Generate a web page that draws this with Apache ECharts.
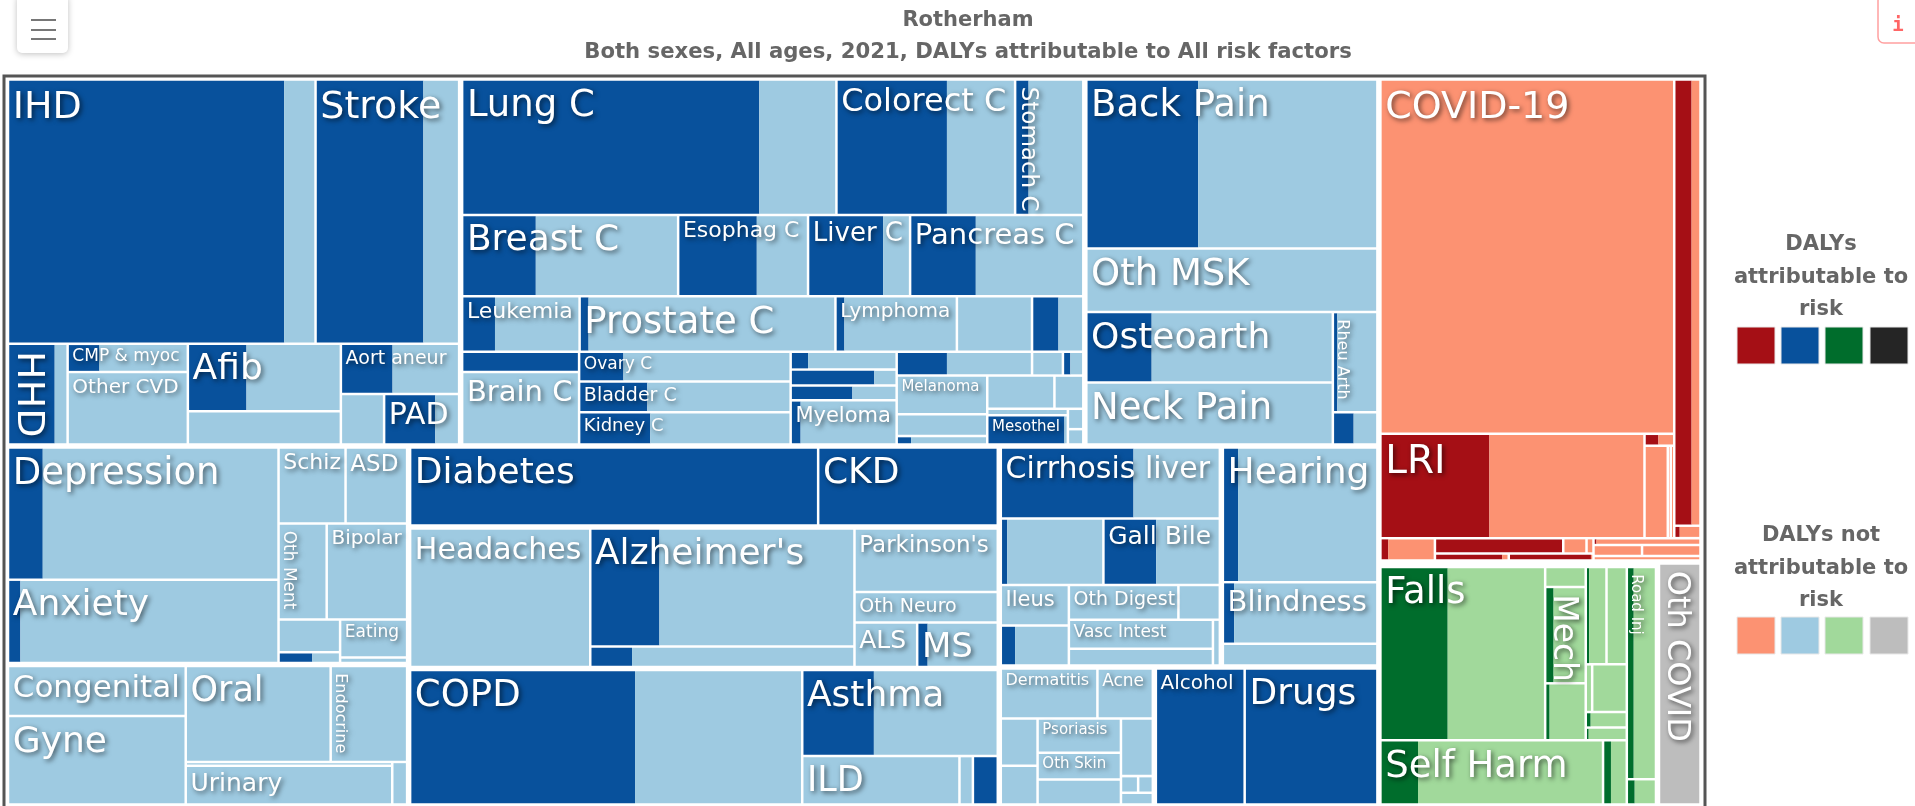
<!DOCTYPE html>
<html><head><meta charset="utf-8">
<style>html,body{margin:0;padding:0;background:#fff;overflow:hidden}#c{width:1915px;height:806px}</style>
<script src="https://cdn.jsdelivr.net/npm/echarts@6/dist/echarts.min.js"></script>
</head><body><div id="c"></div>
<script>
// Relative DALY shares read from tile areas. Each row: cause, attributable to risk, not attributable
var cardiovascular = [['IHD',74087,8395],['Stroke',28915,9594],['HHD',4770,1320],['CMP & myoc',912,2537],['Other CVD',0,8833],['Afib',4012,6460],['',0,5159],['Aort aneur',2626,3384],['',0,2219],['PAD',2627,1224]];
var neoplasms = [['Lung C',40745,10579],['Colorect C',15152,9350],['Stomach C',1843,7508],['Breast C',6068,11726],['Esophag C',6478,4223],['Liver C',6191,2214],['Pancreas C',5412,8856],['Leukemia',1848,4760],['Prostate C',504,13888],['Lymphoma',504,6328],['',0,4228],['',1484,1400],['',2409,0],['Brain C',0,8578],['Ovary C',1335,5040],['Bladder C',2124,4464],['Kidney C',2324,4583],['',315,1602],['',1344,360],['',930,668],['Myeloma',445,4294],['',1212,2052],['',0,744],['',180,312],['Melanoma',0,3549],['',0,2002],['',123,650],['',0,2261],['',0,972],['',0,527],['Mesothel',2286,103],['',0,318],['',0,240]];
var musculoskeletal = [['Back Pain',19267,30861],['Oth MSK',0,18816],['Osteoarth',4686,12993],['Neck Pain',0,15563],['Rheu Arth',455,4091],['',683,780]];
var mentalDisorders = [['Depression',4690,31825],['Anxiety',1056,21970],['Schiz',0,5198],['ASD',0,4774],['Oth Ment',0,4729],['Bipolar',0,7898],['',0,2046],['',374,308],['Eating',0,2599],['',0,371]];
var otherNcd = [['Congenital',0,9129],['Gyne',0,16200],['Oral',0,14308],['Endocrine',0,7546],['',0,832],['Urinary',0,8216],['',0,652]];
var diabetesKidney = [['Diabetes',33210,0],['CKD',14620,0]];
var neurological = [['Headaches',0,25612],["Alzheimer's",8375,23618],['',882,4694],["Parkinson's",0,9360],['Oth Neuro',0,4464],['ALS',0,2867],['MS',478,3208]];
var chronicResp = [['COPD',31075,23100],['Asthma',6336,10956],['ILD',0,7821],['',0,668],['',1238,0]];
var digestive = [['Cirrhosis liver',9684,6300],['',439,6581],['Gall Bile',3611,4354],['Ileus',0,2829],['',587,2207],['Oth Digest',0,3885],['',0,1470],['Vasc Intest',0,4307],['',0,2482],['',0,326]];
var senseOrgan = [['Hearing',2116,19383],['Blindness',719,9125],['',0,3465]];
var skinDiseases = [['Dermatitis',0,5024],['Acne',0,2882],['',0,1819],['',0,1481],['Psoriasis',0,2975],['Oth Skin',0,2338],['',0,2168],['',0,1918],['',0,298],['',0,255],['',0,390]];
var substanceUse = [['Alcohol',12510,0],['Drugs',18696,0]];
var communicable = [['COVID-19',0,105702],['LRI',11550,16433],['',168,192],['',0,2186],['',0,279],['',0,326],['',7858,4041],['',69,263],['',180,1058],['',2007,0],['',0,364],['',0,109],['',476,46],['',581,18],['',21,735],['',0,539],['',0,649],['',0,486]];
var injuries = [['Falls',12104,17533],['',0,840],['Mech',842,3218],['',263,2135],['',350,1750],['',0,2050],['',0,319],['',0,1715],['',80,584],['',39,500],['Self Harm',2508,12342],['',528,1056],['Road Inj',1526,4905],['',208,559]];
var otherCovid = [['Oth COVID',0,10858]];

var titleLines = ['Rotherham','Both sexes, All ages, 2021, DALYs attributable to All risk factors'];
var legendAttributable = ['DALYs','attributable to','risk'];
var legendOther = ['DALYs not','attributable to','risk'];

var palette = {red:['#a50f15','#fc9272'],blue:['#08519c','#9ecae1'],green:['#006d2c','#a1d99b'],gray:['#252525','#bdbdbd']};

function groupOf(rows,family,tree,pad){
  return {rows:rows,family:family,tree:tree,pad:(pad===undefined?1.5:pad)};
}
// Split structure: h means side by side, v means stacked; numbers index into the rows of the group
var layoutTree = ['h',
 ['v',
  ['h',
   groupOf(cardiovascular,'blue',['v',['h',0,1],['h',2,['v',3,4],['v',5,6],['v',7,['h',8,9]]]]),
   groupOf(neoplasms,'blue',['v',['h',0,1,2],['h',3,4,5,6],['h',7,8,9,10,11],['h',['v',12,13],['v',14,15,16],['v',17,18,19,20],['v',['h',21,22,23],['h',['v',24,25,26],['v',['h',27,28],['h',['v',29,30],['v',31,32]]]]]]]),
   groupOf(musculoskeletal,'blue',['v',0,1,['h',['v',2,3],['v',4,5]]])],
  ['h',
   ['v',
    groupOf(mentalDisorders,'blue',['h',['v',0,1],['v',['h',2,3],['h',4,5],['h',['v',6,7],['v',8,9]]]]),
    groupOf(otherNcd,'blue',['h',['v',0,1],['v',['h',2,3],['h',['v',4,5],6]]])],
   ['v',
    groupOf(diabetesKidney,'blue',['h',0,1]),
    groupOf(neurological,'blue',['h',0,['v',1,2],['v',3,4,['h',5,6]]]),
    groupOf(chronicResp,'blue',['h',0,['v',1,['h',2,3,4]]])],
   ['v',
    ['h',
     groupOf(digestive,'blue',['v',0,['h',1,2],['h',['v',3,4],['v',['h',5,6],['h',['v',7,8],9]]]]),
     groupOf(senseOrgan,'blue',['v',0,1,2])],
    ['h',
     groupOf(skinDiseases,'blue',['v',['h',0,1],['h',['v',2,3],['v',4,5,6],['v',7,['h',8,9],10]]]),
     groupOf(substanceUse,'blue',['h',0,1])]]]],
 ['v',
  groupOf(communicable,'red',['v',['h',['v',0,['h',1,['v',2,['h',3,4,5]]]],['v',6,7]],['h',8,['v',['h',9,10,11],['h',12,13]],['v',14,['h',15,16],17]]]),
  ['h',
   groupOf(injuries,'green',['h',['v',['h',0,['v',1,2,3],['v',['h',4,5],['h',6,7],8,9]],['h',10,11]],['v',12,13]],5),
   groupOf(otherCovid,'gray',0)]]];

var labelSize = {'IHD':38,'Stroke':38,'HHD':38,'CMP & myoc':17,'Other CVD':20,'Afib':36,'Aort aneur':19,'PAD':30,'Lung C':37,'Colorect C':32,'Stomach C':23,'Breast C':36,'Esophag C':22,'Liver C':26,'Pancreas C':29,'Leukemia':22,'Prostate C':37,'Lymphoma':20,'Brain C':29,'Ovary C':17,'Bladder C':19,'Kidney C':18,'Myeloma':21,'Melanoma':15,'Mesothel':15,'Back Pain':37,'Oth MSK':37,'Osteoarth':36,'Neck Pain':37,'Rheu Arth':16,'Depression':37,'Anxiety':36,'Schiz':22,'ASD':23,'Oth Ment':17,'Bipolar':20,'Eating':17,'Congenital':31,'Gyne':36,'Oral':35,'Endocrine':16,'Urinary':25,'Diabetes':36,'CKD':36,'Headaches':30,"Alzheimer's":36,"Parkinson's":23,'Oth Neuro':19,'ALS':25,'MS':34,'COPD':37,'Asthma':36,'ILD':35,'Cirrhosis liver':30,'Gall Bile':25,'Ileus':21,'Oth Digest':19,'Vasc Intest':17,'Hearing':36,'Blindness':29,'Dermatitis':16,'Acne':17,'Psoriasis':15,'Oth Skin':15,'Alcohol':20,'Drugs':36,'COVID-19':38,'LRI':39,'Falls':37,'Mech':33,'Road Inj':15,'Oth COVID':32,'Self Harm':37};
var verticalLabels = ['HHD','Stomach C','Rheu Arth','Oth Ment','Endocrine','Mech','Road Inj','Oth COVID'];

var plot = {x:1695.5,y:728};
function total(node,rows){
  if(typeof node==='number'){return rows[node][1]+rows[node][2];}
  if(Array.isArray(node)){var s=0;for(var i=1;i<node.length;i++){s+=total(node[i],rows);}return s;}
  return total(node.tree,node.rows);
}
var leaves=[];
function place(node,box,ctx){
  if(typeof node==='number'){
    var r=ctx.rows[node];
    var split=box.x0+(box.x1-box.x0)*r[1]/(r[1]+r[2]);
    leaves.push({name:r[0],family:ctx.family,x0:box.x0,xs:split,x1:box.x1,y0:box.y0,y1:box.y1});
    return;
  }
  if(!Array.isArray(node)){
    var p=node.pad;
    place(node.tree,{x0:box.x0+1.5,x1:box.x1-1.5,y0:box.y0+p,y1:box.y1-1.5},{rows:node.rows,family:node.family});
    return;
  }
  var sum=total(node,ctx.rows);
  var horizontal=(node[0]==='h');
  var cur=horizontal?box.x0:box.y0;
  var len=horizontal?box.x1-box.x0:box.y1-box.y0;
  for(var i=1;i<node.length;i++){
    var d=len*total(node[i],ctx.rows)/sum;
    var sub;
    if(horizontal){sub={x0:cur,x1:cur+d,y0:box.y0,y1:box.y1};}
    else{sub={x0:box.x0,x1:box.x1,y0:cur,y1:cur+d};}
    place(node[i],sub,ctx);
    cur+=d;
  }
}
place(layoutTree,{x0:0,x1:plot.x,y0:0,y1:plot.y},{});

var seriesData=leaves.map(function(l,i){return [l.x0,l.xs,l.x1,l.y0,l.y1,i];});
var inset=1.25;
function renderItem(params,api){
  var l=leaves[api.value(5)];
  var a=api.coord([api.value(0),api.value(3)]);
  var b=api.coord([api.value(2),api.value(4)]);
  var s=api.coord([api.value(1),api.value(3)]);
  var x0=a[0]+inset,x1=b[0]-inset,y0=a[1]+inset,y1=b[1]-inset;
  var xs=Math.max(x0,Math.min(x1,s[0]));
  var col=palette[l.family];
  var kids=[];
  if(xs>x0){kids.push({type:'rect',shape:{x:x0,y:y0,width:xs-x0,height:y1-y0},style:{fill:col[0]},z2:1});}
  if(x1>xs){kids.push({type:'rect',shape:{x:xs,y:y0,width:x1-xs,height:y1-y0},style:{fill:col[1]},z2:1});}
  if(l.name){
    var fs=labelSize[l.name]||16;
    var vert=verticalLabels.indexOf(l.name)>=0;
    kids.push({type:'text',z2:10,
      x:(vert?x0:x0+3.5),
      y:(vert?y0+6:y0+Math.round(fs*0.2)),
      rotation:(vert?-Math.PI/2:0),
      style:{text:l.name,fill:'#fff',font:'normal '+fs+'px "DejaVu Sans"',textAlign:'left',textVerticalAlign:(vert?'bottom':'top'),
        textShadowColor:'rgba(0,0,0,0.6)',textShadowBlur:5,textShadowOffsetX:2,textShadowOffsetY:2}});
  }
  return {type:'group',children:kids};
}

var legendFont='bold 21px "DejaVu Sans"';
var graphics=[];
function legendBlock(lines,yTop,swatchTop,idx){
  lines.forEach(function(t,i){graphics.push({type:'text',x:1821,y:yTop+i*32.5,silent:true,style:{text:t,font:legendFont,fill:'#666',textAlign:'center',textVerticalAlign:'middle'}});});
  var swatchX=[1737,1781,1825,1870];
  var fams=['red','blue','green','gray'];
  fams.forEach(function(f,i){graphics.push({type:'rect',silent:true,shape:{x:swatchX[i],y:swatchTop,width:38,height:37},style:{fill:palette[f][idx],stroke:'#e8e8e8',lineWidth:1}});});
}
legendBlock(legendAttributable,245,327,0);
legendBlock(legendOther,536,617,1);
graphics.push({type:'rect',silent:true,z:-1,shape:{x:4,y:76,width:1701,height:760},style:{fill:'#fff',stroke:'#555',lineWidth:3}});
graphics.push({type:'rect',silent:true,shape:{x:17,y:-5,width:51,height:58,r:5},style:{fill:'#fff',shadowBlur:6,shadowColor:'rgba(0,0,0,0.25)',shadowOffsetY:1}});
var burgerY=[19,29,38];
burgerY.forEach(function(y){graphics.push({type:'rect',silent:true,shape:{x:31,y:y,width:25,height:2},style:{fill:'#777'}});});
graphics.push({type:'rect',silent:true,shape:{x:1878,y:-5,width:50,height:48,r:6},style:{fill:'#fff',stroke:'#ffa0a0',lineWidth:1.5}});
graphics.push({type:'text',silent:true,x:1898,y:26,style:{text:'i',font:'bold 19px "DejaVu Sans Mono"',fill:'#f66',textAlign:'center',textVerticalAlign:'middle'}});

var chart=echarts.init(document.getElementById('c'),null,{renderer:'canvas'});
chart.setOption({
  animation:false,backgroundColor:'#fff',
  title:[
    {text:titleLines[0],left:963,top:5,textAlign:'center',textStyle:{fontFamily:'DejaVu Sans',fontWeight:'bold',fontSize:21,color:'#666'}},
    {text:titleLines[1],left:963,top:37,textAlign:'center',textStyle:{fontFamily:'DejaVu Sans',fontWeight:'bold',fontSize:21.2,color:'#666'}}
  ],
  grid:{left:6.5,top:78,width:plot.x,height:plot.y,containLabel:false},
  xAxis:{type:'value',min:0,max:plot.x,show:false},
  yAxis:{type:'value',min:0,max:plot.y,inverse:true,show:false},
  graphic:graphics,
  series:[{type:'custom',coordinateSystem:'cartesian2d',clip:false,silent:true,renderItem:renderItem,encode:{x:[0,1,2],y:[3,4]},data:seriesData}]
});
</script></body></html>
